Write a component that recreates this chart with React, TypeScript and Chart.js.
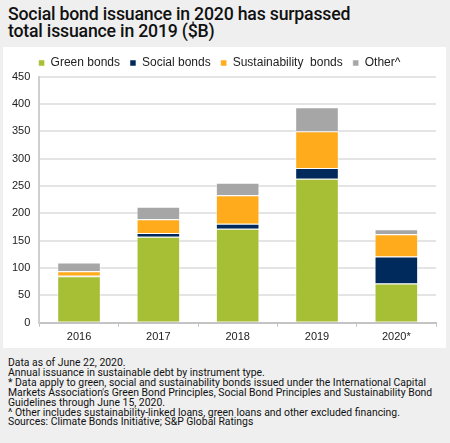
import React, { useEffect, useRef } from "react";
import { Chart, registerables } from "chart.js";

Chart.register(...registerables);

const categories = ["2016", "2017", "2018", "2019", "2020*"];
const greenBonds = [85, 157, 172, 263, 72];
const socialBonds = [1, 7, 9, 20, 49];
const sustainabilityBonds = [8, 25, 52, 67, 41];
const otherFinancing = [16, 23, 23, 44, 9];
const seriesNames = ["Green bonds", "Social bonds", "Sustainability  bonds", "Other^"];
const seriesColors = ["#a6bf34", "#002a5c", "#ffab1c", "#a6a6a6"];

const titleLines = ["Social bond issuance in 2020 has surpassed", "total issuance in 2019 ($B)"];
const footnotes = [
  "Data as of June 22, 2020.",
  "Annual issuance in sustainable debt by instrument type.",
  "* Data apply to green, social and sustainability bonds issued under the International Capital Markets Association's Green Bond Principles, Social Bond Principles and Sustainability Bond Guidelines through June 15, 2020.",
  "^ Other includes sustainability-linked loans, green loans and other excluded financing.",
  "Sources: Climate Bonds Initiative; S&P Global Ratings",
];

const legendTrim = {
  id: "legendTrim",
  beforeInit(chart: any) {
    const legend = chart.legend;
    if (!legend) return;
    const origFit = legend.fit;
    legend.fit = function () {
      origFit.call(this);
      this.height -= 2.5;
    };
  },
};

export default function App() {
  const ref = useRef<HTMLCanvasElement | null>(null);

  useEffect(() => {
    document.body.style.margin = "0";
    const canvas = ref.current;
    if (!canvas) return;
    const values = [greenBonds, socialBonds, sustainabilityBonds, otherFinancing];
    const chart = new Chart(canvas, {
      type: "bar",
      data: {
        labels: categories,
        datasets: values.map((v, i) => ({
          label: seriesNames[i],
          data: v,
          backgroundColor: seriesColors[i],
          borderColor: "rgba(255,255,255,0.5)",
          borderWidth: 1,
          categoryPercentage: 1,
          barPercentage: 0.55,
        })),
      },
      plugins: [legendTrim],
      options: {
        animation: false,
        responsive: false,
        maintainAspectRatio: false,
        layout: { padding: { top: 0, right: 10, left: 0, bottom: 0 } },
        plugins: {
          tooltip: { enabled: false },
          legend: {
            position: "top",
            labels: {
              boxWidth: 6,
              boxHeight: 6,
              padding: 10,
              color: "#222",
              font: { family: "Liberation Sans", size: 12 },
            },
          },
        },
        scales: {
          x: {
            stacked: true,
            grid: {
              display: true,
              drawOnChartArea: false,
              drawTicks: true,
              tickLength: 4,
              color: "#c4c4c4",
              lineWidth: 1,
            },
            border: { display: true, color: "#c4c4c4", width: 2 },
            ticks: {
              color: "#222",
              padding: 4,
              font: { family: "Liberation Sans", size: 11 },
            },
          },
          y: {
            stacked: true,
            min: 0,
            max: 450,
            ticks: {
              stepSize: 50,
              color: "#222",
              padding: 9,
              font: { family: "Liberation Sans", size: 11 },
            },
            grid: {
              color: "#e4e4e4",
              lineWidth: 2,
              drawTicks: false,
            },
            border: { display: true, color: "#cfcfcf", width: 2 },
          },
        },
      },
    });
    return () => chart.destroy();
  }, []);

  return (
    <div
      style={{
        position: "fixed",
        left: 0,
        top: 0,
        width: 450,
        height: 443,
        background: "#efefef",
        fontFamily: "Roboto, sans-serif",
        color: "#111",
        overflow: "hidden",
      }}
    >
      <div
        style={{
          position: "absolute",
          left: 8,
          top: 6,
          fontSize: 17.7,
          fontWeight: 500,
          lineHeight: "16.5px",
          letterSpacing: "-0.2px",
        }}
      >
        {titleLines.map((t, i) => (
          <div key={i} style={{ height: 16.5 }}>{t}</div>
        ))}
      </div>
      <div
        style={{
          position: "absolute",
          left: 3,
          top: 47,
          width: 443,
          height: 301,
          background: "#ffffff",
        }}
      >
        <canvas ref={ref} width={443} height={301} style={{ display: "block" }} />
      </div>
      <div
        style={{
          position: "absolute",
          left: 8,
          top: 358,
          width: 432,
          fontSize: 10.4,
          lineHeight: "9.9px",
          color: "#111",
        }}
      >
        {footnotes.map((t, i) => (
          <div key={i}>{t}</div>
        ))}
      </div>
    </div>
  );
}
